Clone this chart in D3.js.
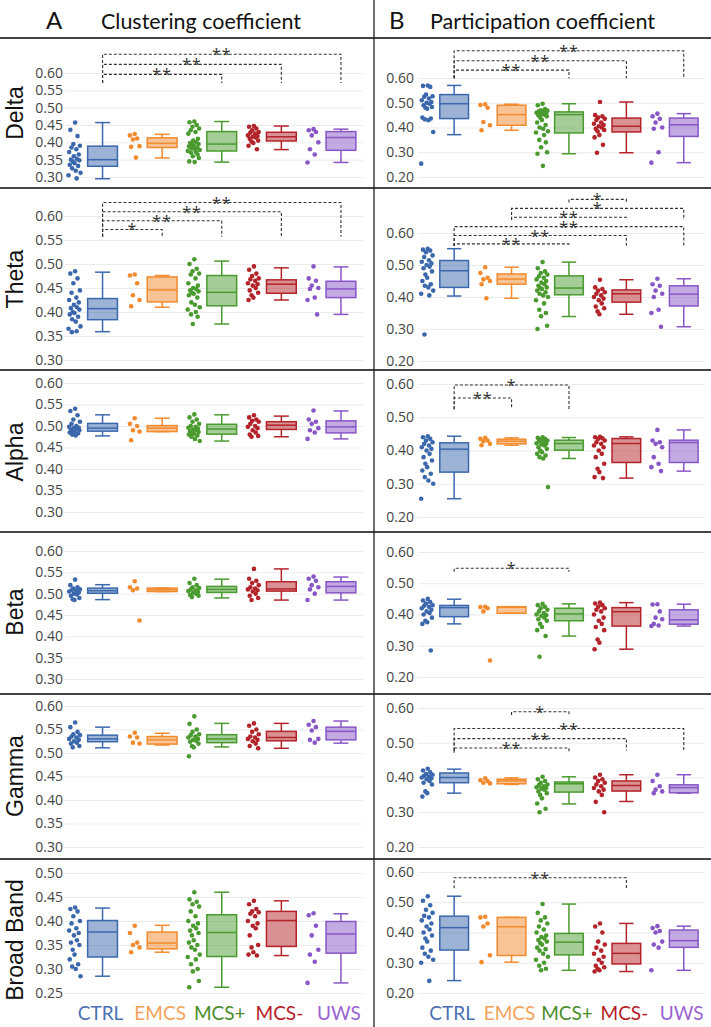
<!DOCTYPE html>
<html><head><meta charset="utf-8">
<script src="https://cdn.jsdelivr.net/npm/d3@7"></script>
<style>body{margin:0;background:#fff}svg{display:block}</style>
</head><body>
<svg id="c" width="711" height="1027"></svg>
<script>
// ---------------- DATA ----------------
const groups = ["CTRL","EMCS","MCS+","MCS-","UWS"];
const bandNames = ["Delta","Theta","Alpha","Beta","Gamma","Broad Band"];
const measureTitles = [["A","Clustering coefficient"],["B","Participation coefficient"]];
const ticksA = [0.30,0.35,0.40,0.45,0.50,0.55,0.60];
const ticksA_broad = [0.25,0.30,0.35,0.40,0.45,0.50];
const ticksB = [0.20,0.30,0.40,0.50,0.60];

// box stats: [lower whisker, q1, median, q3, upper whisker]
// ---- A: Clustering coefficient ----
const deltaA_pts = [
 [0.457,0.436,0.418,0.395,0.39,0.385,0.38,0.372,0.365,0.36,0.352,0.35,0.348,0.345,0.34,0.335,0.332,0.325,0.318,0.312,0.305,0.296],
 [0.424,0.42,0.411,0.408,0.389,0.387,0.356],
 [0.46,0.458,0.45,0.445,0.44,0.435,0.43,0.425,0.41,0.405,0.40,0.398,0.395,0.393,0.39,0.388,0.385,0.382,0.38,0.378,0.375,0.372,0.37,0.365,0.36,0.355,0.345,0.343],
 [0.447,0.445,0.44,0.435,0.43,0.428,0.425,0.42,0.418,0.416,0.414,0.41,0.405,0.402,0.398,0.39,0.38],
 [0.438,0.435,0.43,0.42,0.40,0.38,0.365,0.342]];
const deltaA_box = [[0.295,0.331,0.350,0.389,0.457],[0.355,0.385,0.397,0.413,0.423],[0.343,0.375,0.395,0.431,0.46],[0.379,0.404,0.416,0.429,0.447],[0.342,0.377,0.414,0.431,0.438]];
const deltaA_sig = [[0,2,"**",0.596,0.571],[0,3,"**",0.625,0.571],[0,4,"**",0.654,0.571]];

const thetaA_pts = [
 [0.485,0.48,0.47,0.46,0.445,0.44,0.43,0.425,0.42,0.415,0.41,0.408,0.405,0.40,0.398,0.395,0.39,0.385,0.38,0.37,0.365,0.36,0.358],
 [0.478,0.476,0.46,0.435,0.425,0.412],
 [0.51,0.50,0.49,0.485,0.48,0.478,0.47,0.46,0.455,0.45,0.448,0.445,0.443,0.44,0.438,0.435,0.43,0.42,0.415,0.41,0.405,0.40,0.395,0.39,0.375],
 [0.495,0.488,0.48,0.475,0.47,0.468,0.465,0.46,0.458,0.455,0.45,0.445,0.44,0.435,0.43,0.425],
 [0.495,0.47,0.465,0.455,0.45,0.448,0.43,0.425,0.395]];
const thetaA_box = [[0.359,0.384,0.407,0.428,0.483],[0.41,0.421,0.446,0.473,0.476],[0.375,0.413,0.441,0.476,0.506],[0.425,0.439,0.458,0.467,0.492],[0.395,0.430,0.448,0.464,0.494]];
const thetaA_sig = [[0,1,"*",0.572,0.557],[0,2,"**",0.590,0.557],[0,3,"**",0.609,0.557],[0,4,"**",0.628,0.557]];

const alphaA_pts = [
 [0.54,0.535,0.525,0.515,0.51,0.505,0.50,0.498,0.496,0.495,0.494,0.492,0.49,0.488,0.487,0.485,0.483,0.48,0.478],
 [0.518,0.505,0.50,0.49,0.487,0.467],
 [0.527,0.52,0.515,0.51,0.505,0.50,0.498,0.496,0.494,0.492,0.49,0.488,0.486,0.484,0.482,0.48,0.478,0.475,0.47,0.465],
 [0.525,0.52,0.515,0.512,0.51,0.505,0.50,0.498,0.495,0.49,0.485,0.48,0.477,0.475],
 [0.536,0.515,0.51,0.505,0.495,0.49,0.485,0.47]];
const alphaA_box = [[0.477,0.488,0.495,0.506,0.526],[0.487,0.487,0.495,0.501,0.518],[0.465,0.481,0.493,0.504,0.526],[0.475,0.492,0.502,0.510,0.523],[0.470,0.484,0.498,0.512,0.535]];
const alphaA_sig = [];

const betaA_pts = [
 [0.533,0.52,0.515,0.512,0.51,0.508,0.506,0.505,0.503,0.50,0.498,0.495,0.49,0.487,0.485],
 [0.529,0.515,0.512,0.508,0.437],
 [0.535,0.525,0.52,0.515,0.513,0.51,0.508,0.506,0.504,0.502,0.50,0.497,0.495,0.492],
 [0.558,0.535,0.53,0.525,0.52,0.515,0.512,0.51,0.508,0.505,0.50,0.495,0.49,0.485],
 [0.54,0.535,0.53,0.52,0.515,0.51,0.50,0.485]];
const betaA_box = [[0.486,0.501,0.507,0.513,0.521],[0.505,0.505,0.509,0.513,0.513],[0.49,0.503,0.51,0.517,0.534],[0.485,0.506,0.511,0.528,0.558],[0.485,0.502,0.517,0.528,0.539]];
const betaA_sig = [];

const gammaA_pts = [
 [0.565,0.555,0.545,0.54,0.538,0.535,0.533,0.53,0.528,0.525,0.522,0.52,0.515,0.512],
 [0.543,0.535,0.533,0.522,0.52],
 [0.578,0.562,0.55,0.545,0.54,0.538,0.535,0.533,0.53,0.528,0.526,0.524,0.52,0.515,0.512,0.493],
 [0.563,0.558,0.55,0.545,0.54,0.535,0.533,0.53,0.528,0.525,0.52,0.515,0.51],
 [0.568,0.56,0.555,0.548,0.53,0.528,0.522]];
const gammaA_box = [[0.511,0.524,0.530,0.538,0.555],[0.517,0.519,0.528,0.535,0.542],[0.513,0.522,0.530,0.539,0.563],[0.510,0.526,0.533,0.546,0.563],[0.521,0.528,0.546,0.555,0.568]];
const gammaA_sig = [];

const broadA_pts = [
 [0.428,0.425,0.42,0.41,0.40,0.395,0.385,0.38,0.375,0.37,0.36,0.355,0.35,0.34,0.33,0.32,0.31,0.305,0.30,0.285],
 [0.39,0.375,0.355,0.35,0.345,0.335],
 [0.46,0.445,0.44,0.435,0.43,0.42,0.41,0.40,0.395,0.39,0.385,0.38,0.375,0.37,0.36,0.355,0.35,0.345,0.34,0.33,0.325,0.32,0.31,0.30,0.295,0.275,0.262],
 [0.442,0.435,0.425,0.42,0.418,0.415,0.41,0.40,0.395,0.39,0.385,0.37,0.35,0.345,0.335,0.33,0.328],
 [0.416,0.412,0.39,0.37,0.34,0.33,0.315,0.271]];
const broadA_box = [[0.285,0.325,0.377,0.401,0.427],[0.335,0.342,0.354,0.377,0.391],[0.262,0.326,0.376,0.413,0.46],[0.328,0.347,0.401,0.42,0.442],[0.271,0.333,0.373,0.399,0.415]];
const broadA_sig = [];

// ---- B: Participation coefficient ----
const deltaB_pts = [
 [0.570,0.568,0.564,0.533,0.526,0.524,0.517,0.51,0.503,0.50,0.496,0.49,0.483,0.48,0.476,0.44,0.436,0.433,0.429,0.382,0.254],
 [0.494,0.491,0.48,0.422,0.409,0.389],
 [0.496,0.49,0.475,0.47,0.468,0.465,0.463,0.46,0.458,0.455,0.452,0.45,0.445,0.44,0.43,0.42,0.41,0.40,0.395,0.385,0.38,0.37,0.35,0.34,0.32,0.30,0.294,0.245],
 [0.503,0.45,0.445,0.44,0.435,0.43,0.42,0.415,0.41,0.405,0.40,0.395,0.39,0.385,0.37,0.36,0.33,0.298],
 [0.456,0.445,0.435,0.42,0.40,0.395,0.30,0.258]];
const deltaB_box = [[0.371,0.436,0.496,0.533,0.570],[0.389,0.409,0.452,0.49,0.494],[0.294,0.378,0.452,0.463,0.496],[0.298,0.382,0.405,0.438,0.503],[0.258,0.364,0.411,0.438,0.456]];
const deltaB_sig = [[0,2,"**",0.632,0.599],[0,3,"**",0.670,0.599],[0,4,"**",0.710,0.599]];

const thetaB_pts = [
 [0.551,0.548,0.545,0.54,0.53,0.525,0.515,0.51,0.505,0.50,0.495,0.49,0.48,0.47,0.46,0.45,0.44,0.435,0.43,0.42,0.41,0.405,0.283],
 [0.493,0.475,0.46,0.455,0.45,0.44,0.396],
 [0.509,0.49,0.48,0.475,0.47,0.465,0.46,0.455,0.45,0.445,0.44,0.435,0.43,0.428,0.425,0.42,0.415,0.41,0.405,0.40,0.39,0.38,0.36,0.35,0.34,0.31,0.30],
 [0.454,0.43,0.425,0.42,0.415,0.41,0.405,0.40,0.395,0.39,0.38,0.37,0.365,0.355,0.346],
 [0.457,0.44,0.435,0.42,0.41,0.40,0.36,0.35,0.307]];
const thetaB_box = [[0.403,0.430,0.482,0.514,0.551],[0.396,0.44,0.456,0.472,0.493],[0.339,0.407,0.428,0.466,0.509],[0.346,0.384,0.41,0.422,0.454],[0.307,0.372,0.409,0.435,0.457]];
const thetaB_sig = [[0,2,"**",0.566,0.559],[0,3,"**",0.592,0.559],[0,4,"**",0.620,0.559],[1,3,"**",0.649,0.641],[1,4,"*",0.677,0.641],[2,3,"*",0.705,0.695]];

const alphaB_pts = [
 [0.443,0.44,0.435,0.43,0.425,0.42,0.415,0.41,0.405,0.40,0.39,0.38,0.37,0.36,0.35,0.34,0.33,0.32,0.31,0.30,0.255],
 [0.438,0.435,0.43,0.428,0.42,0.416],
 [0.44,0.438,0.435,0.432,0.43,0.428,0.425,0.422,0.42,0.418,0.415,0.41,0.405,0.40,0.395,0.39,0.385,0.38,0.376,0.29],
 [0.441,0.44,0.437,0.435,0.43,0.425,0.42,0.415,0.41,0.40,0.39,0.38,0.36,0.345,0.335,0.32,0.317],
 [0.462,0.43,0.425,0.42,0.41,0.38,0.36,0.35,0.338]];
const alphaB_box = [[0.255,0.335,0.404,0.423,0.443],[0.416,0.42,0.428,0.434,0.438],[0.376,0.401,0.421,0.431,0.439],[0.317,0.364,0.421,0.436,0.441],[0.338,0.364,0.424,0.431,0.462]];
const alphaB_sig = [[0,1,"**",0.558,0.524],[0,2,"*",0.597,0.524]];

const betaB_pts = [
 [0.45,0.445,0.44,0.435,0.43,0.428,0.425,0.42,0.415,0.41,0.405,0.40,0.39,0.38,0.375,0.37,0.285],
 [0.425,0.424,0.42,0.41,0.253],
 [0.434,0.43,0.425,0.42,0.415,0.41,0.405,0.40,0.398,0.395,0.39,0.385,0.38,0.37,0.36,0.35,0.331,0.265],
 [0.438,0.435,0.43,0.425,0.42,0.415,0.41,0.40,0.39,0.38,0.37,0.36,0.35,0.32,0.31,0.289],
 [0.433,0.432,0.41,0.39,0.385,0.37,0.365,0.363]];
const betaB_box = [[0.370,0.393,0.422,0.429,0.449],[0.404,0.404,0.423,0.425,0.425],[0.331,0.38,0.402,0.42,0.434],[0.289,0.363,0.409,0.422,0.438],[0.363,0.369,0.383,0.415,0.433]];
const betaB_sig = [[0,2,"*",0.548,0.537]];

const gammaB_pts = [
 [0.425,0.42,0.415,0.41,0.408,0.405,0.403,0.40,0.398,0.395,0.39,0.385,0.38,0.36,0.355,0.345],
 [0.398,0.392,0.39,0.385,0.383],
 [0.402,0.395,0.39,0.385,0.38,0.378,0.375,0.372,0.37,0.368,0.365,0.36,0.355,0.35,0.34,0.325,0.31,0.30],
 [0.408,0.40,0.395,0.39,0.385,0.38,0.375,0.37,0.365,0.36,0.35,0.33,0.30],
 [0.408,0.39,0.375,0.365,0.36,0.355]];
const gammaB_box = [[0.355,0.385,0.40,0.413,0.424],[0.38,0.382,0.39,0.395,0.399],[0.324,0.358,0.382,0.387,0.402],[0.331,0.361,0.377,0.39,0.408],[0.355,0.356,0.371,0.379,0.408]];
const gammaB_sig = [[1,2,"*",0.589,0.580],[0,4,"**",0.541,0.478],[0,3,"**",0.512,0.478],[0,2,"**",0.485,0.471]];

const broadB_pts = [
 [0.52,0.505,0.49,0.475,0.465,0.455,0.45,0.44,0.43,0.42,0.41,0.40,0.39,0.38,0.37,0.35,0.34,0.33,0.32,0.31,0.30,0.24],
 [0.452,0.45,0.43,0.42,0.325,0.302],
 [0.494,0.465,0.45,0.44,0.43,0.42,0.41,0.40,0.39,0.385,0.38,0.375,0.37,0.365,0.36,0.35,0.345,0.34,0.33,0.32,0.31,0.30,0.29,0.28,0.275],
 [0.43,0.42,0.40,0.37,0.36,0.35,0.34,0.33,0.32,0.31,0.30,0.29,0.285,0.28,0.275,0.271],
 [0.421,0.415,0.405,0.40,0.37,0.36,0.35,0.275]];
const broadB_box = [[0.241,0.342,0.416,0.454,0.52],[0.302,0.324,0.419,0.45,0.45],[0.275,0.326,0.368,0.397,0.494],[0.271,0.296,0.331,0.364,0.43],[0.275,0.351,0.373,0.408,0.421]];
const broadB_sig = [[0,3,"**",0.581,0.546]];

// ---------------- STYLE / LAYOUT ----------------
const colors = ["#3b68ad","#f28a2e","#4a9b2f","#b3232a","#8856c6"];
const labelColors = ["#4a71b3","#f3a25a","#4a8c2a","#b52025","#9a62d0"];
const jit = [0.1,-0.7,0.5,-0.2,0.9,-0.5,0.3,-0.9,0.7,-0.1,0.4,-0.6,0.8,-0.3,0.0,-0.8,0.6,-0.4,0.2,1.0,-1.0,0.35,-0.45,0.65,-0.15,0.85,-0.75,0.15,-0.35,0.55];
const cols = [{x0:65,x1:363,pad:2},{x0:418,x1:705,pad:4}];
const rowLines = [38,188,370,532,694,859];
const yPxA = [[177,73],[360,216],[512,383],[679,551],[847,706],[993,873]];
const yPxB = [[177,78],[361,233],[517,384],[677,552],[847,708],[993,872]];
const rowLabelY = [113,279,452,612,776,940];

const panelsA = [[deltaA_pts,deltaA_box,deltaA_sig],[thetaA_pts,thetaA_box,thetaA_sig],[alphaA_pts,alphaA_box,alphaA_sig],[betaA_pts,betaA_box,betaA_sig],[gammaA_pts,gammaA_box,gammaA_sig],[broadA_pts,broadA_box,broadA_sig]];
const panelsB = [[deltaB_pts,deltaB_box,deltaB_sig],[thetaB_pts,thetaB_box,thetaB_sig],[alphaB_pts,alphaB_box,alphaB_sig],[betaB_pts,betaB_box,betaB_sig],[gammaB_pts,gammaB_box,gammaB_sig],[broadB_pts,broadB_box,broadB_sig]];

const svg = d3.select("#c");
const tickFont = "'Open Sans', sans-serif";
const catFont = "Lato, 'Open Sans', sans-serif";

function drawPanel(colIdx, row, data) {
  const c = cols[colIdx];
  const ticks = colIdx === 0 ? (row === 5 ? ticksA_broad : ticksA) : ticksB;
  const yp = colIdx === 0 ? yPxA[row] : yPxB[row];
  const x = d3.scaleBand().domain(groups).range([c.x0, c.x1]);
  const y = d3.scaleLinear().domain([ticks[0], ticks[ticks.length-1]]).range(yp);
  const bw = x.bandwidth();
  const boxW = bw * 0.5;
  const boxC = g => x(g) + bw/2 + bw*0.13;
  const dotC = g => x(g) + bw/2 - bw*0.34;
  const g0 = svg.append("g");

  const ax = g0.append("g").attr("transform", `translate(${c.x0},0)`)
    .call(d3.axisLeft(y).tickValues(ticks).tickFormat(d3.format(".2f")).tickSize(-(c.x1-c.x0)).tickPadding(c.pad));
  ax.select(".domain").remove();
  ax.selectAll(".tick line").attr("stroke","#ebebeb").attr("stroke-width",1);
  ax.selectAll(".tick text").attr("fill","#444").style("font-family",tickFont).style("font-size","14px");

  const [pts, box, sig] = data;
  groups.forEach((gname, gi) => {
    const col = colors[gi];
    const gg = g0.append("g");
    const [lo,q1,med,q3,hi] = box[gi];
    const cx = boxC(gname);
    gg.append("line").attr("x1",cx).attr("x2",cx).attr("y1",y(q3)).attr("y2",y(hi)).attr("stroke",col).attr("stroke-width",1.5);
    gg.append("line").attr("x1",cx).attr("x2",cx).attr("y1",y(q1)).attr("y2",y(lo)).attr("stroke",col).attr("stroke-width",1.5);
    gg.append("line").attr("x1",cx-boxW/4).attr("x2",cx+boxW/4).attr("y1",y(hi)).attr("y2",y(hi)).attr("stroke",col).attr("stroke-width",1.5);
    gg.append("line").attr("x1",cx-boxW/4).attr("x2",cx+boxW/4).attr("y1",y(lo)).attr("y2",y(lo)).attr("stroke",col).attr("stroke-width",1.5);
    gg.append("rect").attr("x",cx-boxW/2).attr("width",boxW).attr("y",y(q3)).attr("height",Math.max(0.5,y(q1)-y(q3)))
      .attr("fill",col).attr("fill-opacity",0.5).attr("stroke",col).attr("stroke-width",1.5);
    gg.append("line").attr("x1",cx-boxW/2).attr("x2",cx+boxW/2).attr("y1",y(med)).attr("y2",y(med)).attr("stroke",col).attr("stroke-width",1.5);
    const dc = dotC(gname);
    gg.selectAll("circle").data(pts[gi]).join("circle")
      .attr("cx",(d,i)=>dc + jit[i % jit.length]*6)
      .attr("cy",d=>y(d)).attr("r",2.3).attr("fill",col);
  });

  sig.forEach(([a,b,lab,lev,leg]) => {
    const x1 = boxC(groups[a]), x2 = boxC(groups[b]);
    const yl = y(lev), yb = y(leg);
    g0.append("path").attr("d",`M${x1},${yb}V${yl}H${x2}V${yb}`)
      .attr("fill","none").attr("stroke","#333").attr("stroke-width",1.1).attr("stroke-dasharray","3,2");
    g0.append("text").attr("x",(x1+x2)/2).attr("y",yl+6).attr("text-anchor","middle")
      .style("font-family",tickFont).style("font-size","16px").style("letter-spacing","1px").attr("fill","#333").text(lab);
  });

  if (row === 5) {
    groups.forEach((gname, gi) => {
      svg.append("text").attr("x", boxC(gname) - 2).attr("y", 1020).attr("text-anchor","middle")
        .style("font-family",catFont).style("font-size","19px").attr("fill",labelColors[gi]).text(gname);
    });
  }
}

panelsA.forEach((d,i)=>drawPanel(0,i,d));
panelsB.forEach((d,i)=>drawPanel(1,i,d));

bandNames.forEach((b,i)=>{
  svg.append("text").attr("transform",`translate(23,${rowLabelY[i]}) rotate(-90)`).attr("text-anchor","middle")
    .style("font-family","'Liberation Sans', Arial, sans-serif").style("font-size","23px").attr("fill","#111").text(b);
});

function header(txt, x, target, fs) {
  const t = svg.append("text").attr("x",x).attr("y",29).style("font-family",catFont).style("font-size",fs+"px").attr("fill","#111").text(txt);
  if (target) {
    const len = t.node().getComputedTextLength();
    t.style("font-size", (fs*target/len).toFixed(2)+"px");
  }
}
header(measureTitles[0][0], 46, 0, 24);
header(measureTitles[0][1], 101, 200, 20);
header(measureTitles[1][0], 389, 0, 24);
header(measureTitles[1][1], 430, 225, 20);

rowLines.forEach(yy=>{
  svg.append("line").attr("x1",0).attr("x2",711).attr("y1",yy).attr("y2",yy).attr("stroke","#444").attr("stroke-width",1.8);
});
svg.append("line").attr("x1",374).attr("x2",374).attr("y1",0).attr("y2",1027).attr("stroke","#222").attr("stroke-width",1.3);
</script>
</body></html>
